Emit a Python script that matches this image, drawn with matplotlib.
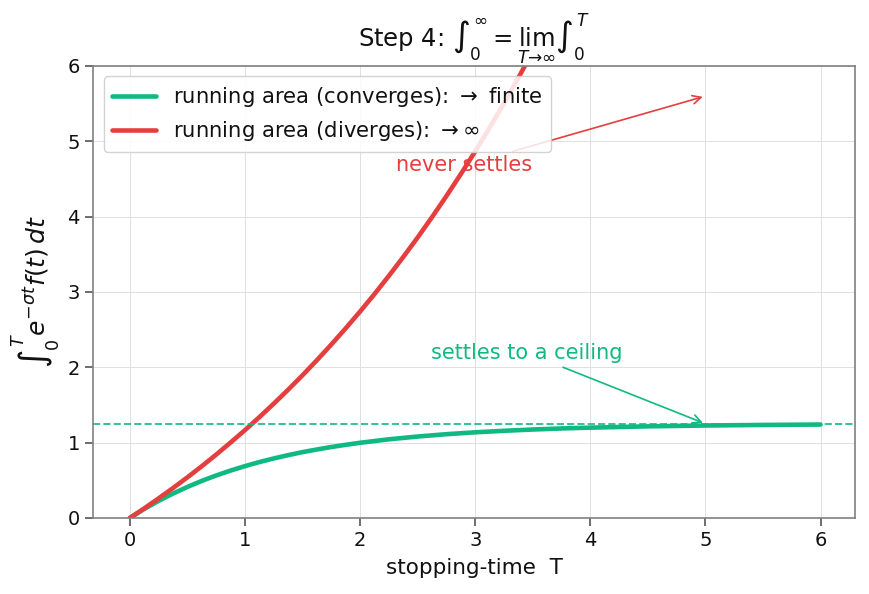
import matplotlib
matplotlib.use("Agg")
import matplotlib.pyplot as plt
import seaborn as sns

# values
t_conv = [0, 0.125, 0.25, 0.375, 0.5, 0.625, 0.75, 0.875, 1.0, 1.125, 1.25, 1.375,
          1.5, 1.625, 1.75, 1.875, 2.0, 2.25, 2.5, 2.75, 3.0, 3.25, 3.5, 3.75,
          4.0, 4.5, 5.0, 5.5, 6.0]
area_conv = [0, 0.119, 0.227, 0.324, 0.412, 0.492, 0.564, 0.629, 0.688, 0.742,
             0.790, 0.834, 0.874, 0.909, 0.942, 0.971, 0.998, 1.044, 1.081,
             1.112, 1.137, 1.157, 1.174, 1.188, 1.199, 1.216, 1.227, 1.235, 1.240]

t_div = [0, 0.125, 0.25, 0.375, 0.5, 0.625, 0.75, 0.875, 1.0, 1.125, 1.25, 1.375,
         1.5, 1.625, 1.75, 1.875, 2.0, 2.125, 2.25, 2.375, 2.5, 2.625, 2.75,
         2.875, 3.0, 3.125, 3.25, 3.375, 3.5]
area_div = [0, 0.127, 0.260, 0.397, 0.539, 0.687, 0.841, 1.001, 1.166, 1.338,
            1.517, 1.702, 1.894, 2.094, 2.302, 2.517, 2.740, 2.972, 3.213, 3.464,
            3.723, 3.993, 4.273, 4.564, 4.865, 5.179, 5.504, 5.842, 6.192]

ceiling = 1.25
x_ticks = [0, 1, 2, 3, 4, 5, 6]
y_ticks = [0, 1, 2, 3, 4, 5, 6]

GREEN = "#10b981"
RED = "#e53e3e"

sns.set_style("ticks")
plt.rcParams["font.family"] = ["DejaVu Sans"]

fig, ax = plt.subplots(figsize=(8.69, 5.94), dpi=100)
fig.subplots_adjust(left=0.107, right=0.984, top=0.889, bottom=0.128)

ax.plot(t_conv, area_conv, color=GREEN, lw=3.3, label=r"running area (converges): $\to$ finite")
ax.plot(t_div, area_div, color=RED, lw=3.3, label=r"running area (diverges): $\to\infty$")
ax.axhline(ceiling, color=GREEN, ls="--", lw=1.4, alpha=0.85)

ax.annotate("never settles", xy=(5, 5.6), xytext=(2.9, 4.68), color=RED,
            fontsize=15, ha="center", va="center",
            arrowprops=dict(arrowstyle="->", color=RED, lw=1.2))
ax.annotate("settles to a ceiling", xy=(5, 1.25), xytext=(3.45, 2.19), color=GREEN,
            fontsize=15, ha="center", va="center",
            arrowprops=dict(arrowstyle="->", color=GREEN, lw=1.2))

ax.set_xlim(-0.32, 6.3)
ax.set_ylim(0, 6)
ax.set_xticks(x_ticks)
ax.set_yticks(y_ticks)
ax.tick_params(labelsize=14, length=6, width=1.2, color="#555555", labelcolor="#111111")
ax.grid(True, color="#e0e0e0", lw=0.7)
for s in ax.spines.values():
    s.set_color("#808080")
    s.set_linewidth(1.2)

ax.set_title(r"Step 4: $\int_0^\infty = \lim_{T\to\infty}\int_0^T$", fontsize=17.5,
             color="#111111", pad=8)
ax.set_xlabel("stopping-time  T", fontsize=15.5, color="#111111", labelpad=6)
ax.set_ylabel(r"$\int_0^T e^{-\sigma t} f(t)\,dt$", fontsize=18, color="#111111", labelpad=4)
leg = ax.legend(loc="upper left", fontsize=15.2, framealpha=0.85, handlelength=2.1)
for txt in leg.get_texts():
    txt.set_color("#111111")

fig.savefig("out.png")
